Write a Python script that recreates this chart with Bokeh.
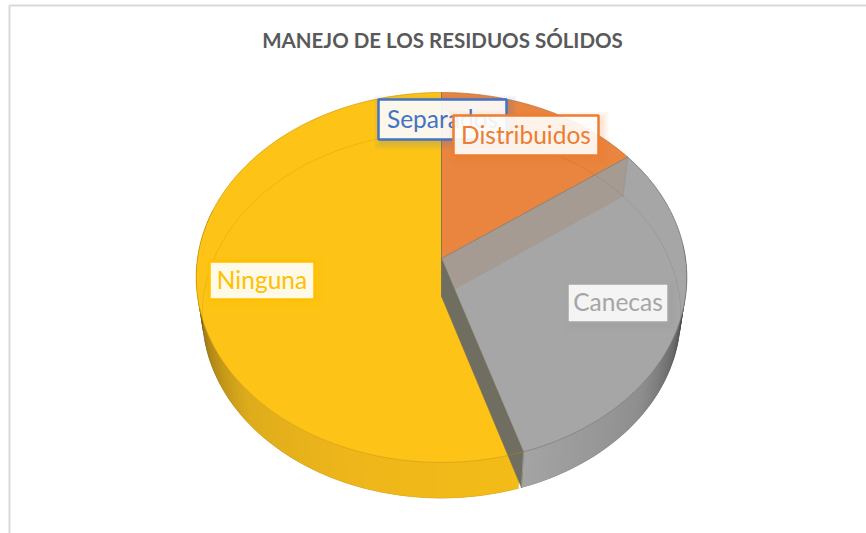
import math
from bokeh.plotting import figure
from bokeh.models import Range1d
from bokeh.core.properties import value
from bokeh.embed import file_html
from bokeh.resources import INLINE

# ---- data ----
categories = ["Separados", "Distribuidos", "Canecas", "Ninguna"]
shares = [0, 15, 30.1, 54.9]
title_text = "MANEJO DE LOS RESIDUOS SÓLIDOS"

# ---- styles ----
top_colors = {"Distribuidos": "#e9853f", "Canecas": "#a6a6a6", "Ninguna": "#fdc316"}
label_colors = {"Separados": "#4472c4", "Distribuidos": "#ed7d31", "Canecas": "#a5a5a5", "Ninguna": "#ffc000"}
label_boxes = {  # left, right, top, bottom, fill alpha
    "Separados": (378, 506, 99, 139, 0.90),
    "Distribuidos": (453, 598, 115, 155, 0.90),
    "Canecas": (567, 668, 283, 322, 0.88),
    "Ninguna": (209, 314, 261, 299, 0.90),
}

W, H = 866, 533
CX = 441
P = 0.1027
TOP = dict(cy=258, R=244, k=183)
BASE = dict(cy=296, R=238, k=181)


def proj(theta_deg, lvl):
    t = math.radians(theta_deg)
    u, v = math.sin(t), -math.cos(t)
    d = 1 - P * v
    return CX + lvl["R"] * u / d, lvl["cy"] + lvl["k"] * v / d


def arc(a, b, lvl, n=120):
    pts = [proj(a + (b - a) * i / n, lvl) for i in range(n + 1)]
    return [q[0] for q in pts], [q[1] for q in pts]


def mix(stops, t):
    for (a, ca), (b, cb) in zip(stops, stops[1:]):
        if a <= t <= b:
            f = (t - a) / (b - a)
            rgb = [round(ca[i] + (cb[i] - ca[i]) * f) for i in range(3)]
            return "#%02x%02x%02x" % tuple(rgb)
    return "#%02x%02x%02x" % stops[-1][1]


# slice boundaries, clockwise from the top
total = sum(shares)
bounds = {}
acc = 0
for c, s in zip(categories, shares):
    bounds[c] = (acc * 360 / total, (acc + s) * 360 / total)
    acc += s
a_orange_end = bounds["Distribuidos"][1]
a_gray_end = bounds["Canecas"][1]

p = figure(width=W, height=H, x_range=Range1d(0, W), y_range=Range1d(H, 0),
           output_backend="svg", toolbar_location=None, min_border=0,
           x_axis_type=None, y_axis_type=None, outline_line_color=None,
           background_fill_color="#ffffff", border_fill_color="#ffffff")
p.grid.visible = False
p.margin = (0, 0, 0, 0)

# chart frame
p.line([9, 9, W], [H, 5, 5], line_color="#d9d9d9", line_width=2)

# outer wall
gray_stops = [(85, (30, 30, 30)), (100, (45, 45, 45)), (112, (105, 105, 105)),
              (130, (142, 142, 142)), (165, (166, 166, 166))]
yellow_stops = [(a_gray_end, (243, 188, 24)), (200, (238, 182, 26)), (228, (222, 172, 28)),
                (248, (175, 135, 22)), (262, (110, 85, 15)), (285, (80, 62, 10))]
step = 1.0
a = 85.0
wx, wy, wc = [], [], []
while a < 285:
    b = a + step
    over = min(b + step, a_gray_end) if a < a_gray_end else b + step
    t0, t1, b0, b1 = proj(a, TOP), proj(over, TOP), proj(over, BASE), proj(a, BASE)
    wx.append([t0[0], t1[0], b0[0], b1[0]])
    wy.append([t0[1], t1[1], b0[1], b1[1]])
    wc.append(mix(gray_stops if a < a_gray_end else yellow_stops, a + step / 2))
    a = b
p.patches(wx, wy, fill_color=wc, line_color=None)

# top faces
for c in ["Ninguna", "Canecas", "Distribuidos"]:
    a0, a1 = bounds[c]
    xs, ys = arc(a0, a1, TOP)
    p.patch([CX] + xs, [TOP["cy"]] + ys, fill_color=top_colors[c], line_color=top_colors[c], line_width=0.5)

# inner wall behind the orange slice
t_end, b_end = proj(a_orange_end, TOP), proj(a_orange_end, BASE)
p.patch([CX, t_end[0], b_end[0], CX], [TOP["cy"], t_end[1], b_end[1], BASE["cy"]],
        fill_color="#a59b92", line_color="#a59b92", line_width=0.5)

# inner wall at the yellow / gray boundary
t_tip, b_tip = proj(a_gray_end, TOP), proj(a_gray_end, BASE)
p.patch([CX, t_tip[0], b_tip[0], CX], [TOP["cy"], t_tip[1], b_tip[1], BASE["cy"]],
        fill_color="#706e60", line_color="#706e60", line_width=0.5)

# lighter gray corner at the wall tip
p.line([t_tip[0], b_tip[0]], [t_tip[1], b_tip[1]], line_color="#8f8f88", line_width=1)

# faint base ellipse seen through the top
bx, by = arc(0, 360, BASE, 240)
p.line(bx, by, line_color="#000000", line_alpha=0.07, line_width=1)

# rim and slice edges
rx, ry = arc(a_gray_end, 360, TOP)
p.line(rx, ry, line_color="#b8860b", line_alpha=0.55, line_width=0.8)
rx, ry = arc(a_orange_end, a_gray_end, TOP)
p.line(rx, ry, line_color="#6f6f6f", line_alpha=0.7, line_width=0.9)
rx, ry = arc(0, a_orange_end, TOP)
p.line(rx, ry, line_color="#a0703f", line_alpha=0.6, line_width=0.8)
p.line([CX, CX], [proj(0, TOP)[1], BASE["cy"]], line_color="#7a7650", line_alpha=0.9, line_width=1)
p.line([CX, t_end[0]], [TOP["cy"], t_end[1]], line_color="#7f7468", line_alpha=0.8, line_width=0.8)
p.line([t_end[0], b_end[0]], [t_end[1], b_end[1]], line_color="#8f8f8f", line_alpha=0.6, line_width=0.8)

# title
p.text([442], [39], text=[title_text], text_font=value("Lato"), text_font_style="bold",
       text_font_size="20.5px", text_color="#595959", text_align="center", text_baseline="middle")

# data labels
for c in ["Ninguna", "Canecas", "Separados", "Distribuidos"]:
    l, r, t, b, alpha = label_boxes[c]
    col = label_colors[c]
    for g in (7, 5, 3, 1):
        p.quad(left=[l - g + 3], right=[r + g + 3], top=[t - g + 3], bottom=[b + g + 3],
               fill_color=col, fill_alpha=0.05, line_color=None)
    p.quad(left=[l], right=[r], top=[t], bottom=[b], fill_color="#ffffff", fill_alpha=alpha,
           line_color=col, line_width=2.5)
    p.text([(l + r) / 2], [(t + b) / 2 - 1.5], text=[c], text_font=value("Lato"), text_font_size="24.5px",
           text_color=col, text_align="center", text_baseline="middle")

open("out.html", "w").write(file_html(p, INLINE))
